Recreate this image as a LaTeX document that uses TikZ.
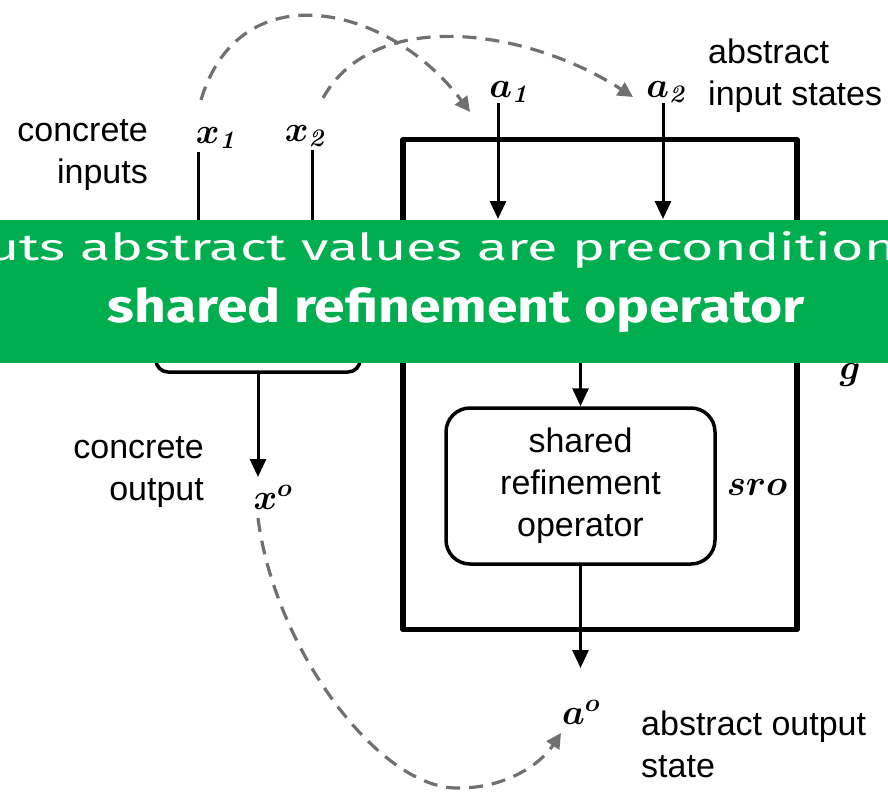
\RequirePackage{fix-cm}
\documentclass[tikz,border=0pt]{standalone}
\usepackage[no-math]{fontspec}
\newfontfamily\arialf{Liberation Sans}
\newfontfamily\bannerf{Fira Sans}
\usetikzlibrary{arrows.meta}
\definecolor{bgreen}{RGB}{0,174,80}
\definecolor{dgray}{RGB}{112,112,112}
\begin{document}
\begin{tikzpicture}[x=1pt,y=-1pt,
  txt/.style={font=\arialf\fontsize{34}{42}\selectfont, inner sep=0pt},
  mlab/.style={font=\fontsize{36}{40}\selectfont\boldmath, inner sep=0pt},
  arr/.style={line width=3pt, -{Triangle[width=16pt,length=18pt]}},
  wire/.style={line width=3pt},
  dashc/.style={draw=dgray, line width=3.2pt, dash pattern=on 14pt off 9pt,
    -{Triangle[width=15pt,length=15pt,fill=dgray]}},
]
\useasboundingbox (0,0) rectangle (888,792);

% boxes
\node[draw, line width=5.5pt, line join=round, minimum width=394pt, minimum height=490pt, inner sep=0pt] (G) at (600,384.5) {};
\node[draw, line width=3.5pt, rounded corners=12pt, minimum width=204pt, minimum height=110pt, inner sep=0pt] (F) at (258,317) {};
\node[draw, line width=3.5pt, rounded corners=24pt, minimum width=269pt, minimum height=156pt, inner sep=0pt, align=center, txt] (S) at (580.5,486) {shared\\refinement\\operator};

% math labels
\node[mlab] (x1) at (217,138) {$x_{\mathit{1}}$};
\node[mlab] (x2) at (306,136) {$x_{\mathit{2}}$};
\node[mlab] (a1) at (510,92) {$a_{\mathit{1}}$};
\node[mlab] (a2) at (667,92) {$a_{\mathit{2}}$};
\node[mlab] (xo) at (273,497) {$x^{o}$};
\node[mlab] (ao) at (581,712) {$a^{o}$};
\node[mlab] (g) at (850,375) {$g$};
\node[mlab] (sro) at (757,487) {$sro$};

% text labels
\node[txt, anchor=east, align=right] (cin) at (148,155) {concrete\\inputs};
\node[txt, anchor=west, align=left] (ain) at (708,76) {abstract\\input states};
\node[txt, anchor=east, align=right] (cout) at (204,472) {concrete\\output};
\node[txt, anchor=west, align=left] (aout) at (641,744) {abstract output\\state};

% coordinates
\coordinate (x1s) at (198,152);
\coordinate (x2s) at (312,150);
\coordinate (a1s) at (498,103);
\coordinate (a1e) at (498,219);
\coordinate (a2s) at (663,103);
\coordinate (a2e) at (663,219);
\coordinate (xoe) at (258,477);
\coordinate (aoe) at (580.5,668);
\coordinate (gin) at (580.5,330);

% solid connectors
\draw[wire] (x1s) -- (x1s |- F.north);
\draw[wire] (x2s) -- (x2s |- F.north);
\draw[arr] (a1s) -- (a1e);
\draw[arr] (a2s) -- (a2e);
\draw[arr] (F.south) -- (xoe);
\draw[arr] (gin) -- (S.north);
\draw[arr] (S.south) -- (aoe);

% dashed curves
\coordinate (d1s) at (201,100);
\coordinate (d1e) at (470,112);
\coordinate (d2s) at (323,98);
\coordinate (d2e) at (633,97);
\coordinate (d3s) at (258,518);
\coordinate (d3m) at (459,788);
\coordinate (d3e) at (561,733);
\draw[dashc] (d1s) .. controls (240,-30) and (390,5) .. (d1e);
\draw[dashc] (d2s) .. controls (375,5) and (530,30) .. (d2e);
\draw[dashc] (d3s) .. controls (275,650) and (380,790) .. (d3m) .. controls (505,788) and (540,765) .. (d3e);

% banner
\fill[bgreen] (0,220) rectangle (888,363);
\begin{scope}
\clip (0,220) rectangle (888,363);
\node[text=white, inner sep=0pt, anchor=base] (b1) at (442,260) {\resizebox{909pt}{29pt}{\bannerf uts abstract values are precondition}};
\end{scope}
\node[text=white, inner sep=0pt, anchor=base] (b2) at (456.5,322) {\resizebox{697pt}{35pt}{\bannerf\bfseries shared refinement operator}};
\end{tikzpicture}
\end{document}
